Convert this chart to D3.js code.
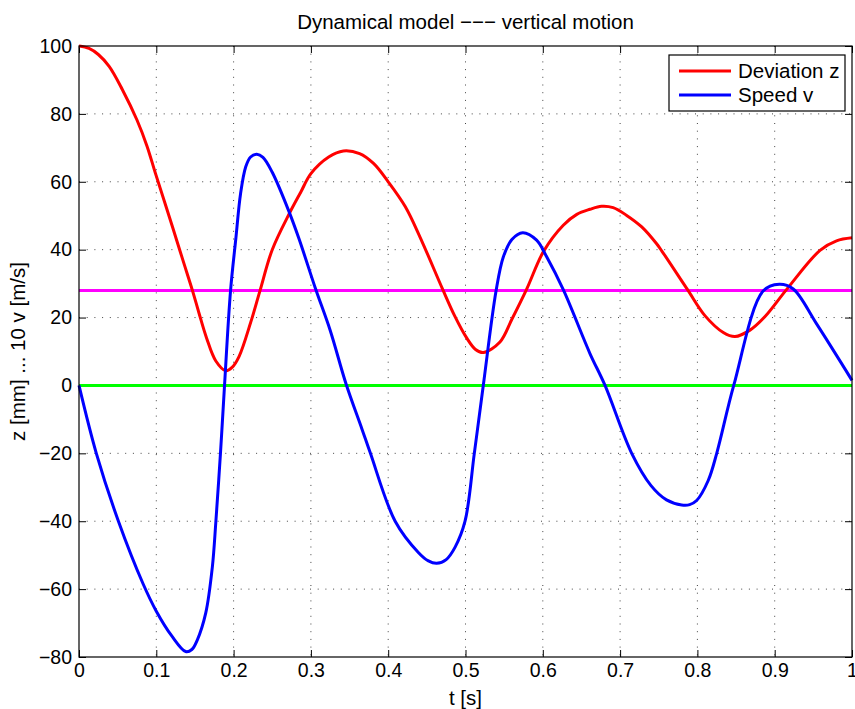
<!DOCTYPE html>
<html>
<head>
<meta charset="utf-8">
<script src="https://cdn.jsdelivr.net/npm/d3@7"></script>
<style>
    body { margin: 0; background: #fff; }
    text { font-family: "Liberation Sans", Arial, Helvetica, sans-serif; fill: #000; }
</style>
</head>
<body>
<div id="chart"></div>
<script>
// Deviation z [mm]
const tDev = [0, 0.013, 0.025, 0.039, 0.056, 0.075, 0.088, 0.099, 0.121, 0.134, 0.147, 0.155, 0.165, 0.177, 0.19, 0.198, 0.207,
    0.222, 0.234, 0.25, 0.272, 0.287, 0.3, 0.323, 0.342, 0.363, 0.381, 0.4, 0.422, 0.441, 0.4705, 0.486, 0.5015, 0.513, 0.523,
    0.5446, 0.56, 0.579, 0.601, 0.6265, 0.644, 0.661, 0.676, 0.691, 0.7085, 0.728, 0.747, 0.754, 0.787, 0.81, 0.8335, 0.8486,
    0.868, 0.8875, 0.9155, 0.9586, 0.98, 1.0];
const zDev = [100, 99.3, 97.5, 94, 87.2, 78.2, 70.5, 62.4, 46.7, 37.2, 27.8, 21.5, 14, 7.2, 4.3, 5.3, 8.5,
    18.5, 27.8, 40, 50.6, 57, 62.4, 67.3, 69.1, 68.3, 65.4, 60, 52.7, 43.8, 28.3, 20.5, 14, 10.6, 9.7,
    12.8, 19.5, 28.3, 39.5, 47.2, 50.4, 51.9, 52.8, 52.4, 50.1, 46.7, 41.8, 39.6, 28.3, 20.5, 15.6, 14.4,
    16.3, 20.3, 28.3, 39.8, 42.6, 43.5];

// Speed v scaled by 10 [m/s]
const tSpeed = [0, 0.0224, 0.051, 0.083, 0.1, 0.12, 0.138, 0.146, 0.153, 0.164, 0.1725, 0.177, 0.183, 0.188, 0.196, 0.203, 0.209,
    0.2157, 0.222, 0.23, 0.238, 0.25, 0.2717, 0.2846, 0.306, 0.325, 0.3454, 0.366, 0.377, 0.409, 0.439, 0.452, 0.4627, 0.475,
    0.4864, 0.4994, 0.5114, 0.523, 0.5395, 0.549, 0.56, 0.574, 0.592, 0.605, 0.6265, 0.661, 0.6805, 0.715, 0.74, 0.76, 0.7797,
    0.79, 0.799, 0.814, 0.825, 0.847, 0.885, 0.906, 0.924, 0.954, 1.0];
const vSpeed = [0, -20, -40, -58.5, -66.5, -73.8, -78.4, -77.8, -75, -67, -53.5, -40.3, -20, -1, 27.8, 43.5, 56.5,
    64.4, 67.3, 68.1, 67.2, 62.8, 51.2, 43.2, 28.5, 16.2, 0.5, -12.8, -20, -40, -49.2, -51.7, -52.4, -51.3,
    -47.7, -40, -20, 0, 27.8, 37.9, 43, 45, 42.8, 37.9, 28.2, 9.4, 0, -20, -29.5, -33.7, -35.2,
    -35.1, -33.9, -28, -20, 0, 27.8, 29.8, 28.4, 18.2, 1.5];

// horizontal reference lines
const refLevel = 28;
const zeroLevel = 0;

const xTicks = [0, 0.1, 0.2, 0.3, 0.4, 0.5, 0.6, 0.7, 0.8, 0.9, 1];
const yTicks = [-80, -60, -40, -20, 0, 20, 40, 60, 80, 100];
const legendItems = [
    { label: "Deviation z", color: "#ff0000" },
    { label: "Speed v", color: "#0000ff" },
];

let margin = { top: 46, right: 3, bottom: 52, left: 79 };
let width = 855 - margin.left - margin.right,
    height = 709 - margin.top - margin.bottom;

let svg = d3
    .select("#chart")
    .append("svg")
    .attr("width", 855)
    .attr("height", 709)
    .append("g")
    .attr("transform", "translate(" + margin.left + "," + margin.top + ")");

let x = d3.scaleLinear().domain([0, 1]).range([0, width]);
let y = d3.scaleLinear().domain([-80, 100]).range([height, 0]);

// Dotted grid
svg.append("g")
    .selectAll("line")
    .data(xTicks.slice(1, -1))
    .enter()
    .append("line")
    .attr("x1", (d) => x(d)).attr("x2", (d) => x(d))
    .attr("y1", 0).attr("y2", height)
    .attr("stroke", "#444").attr("stroke-width", 1).attr("stroke-dasharray", "1,6.7");

svg.append("g")
    .selectAll("line")
    .data(yTicks.slice(1, -1))
    .enter()
    .append("line")
    .attr("y1", (d) => y(d)).attr("y2", (d) => y(d))
    .attr("x1", 0).attr("x2", width)
    .attr("stroke", "#444").attr("stroke-width", 1).attr("stroke-dasharray", "1,6.7");

// Axes with inward ticks on all sides
const tickLen = 7;
svg.append("g")
    .attr("transform", "translate(0," + height + ")")
    .call(d3.axisBottom(x).tickValues(xTicks).tickSizeInner(-tickLen).tickSizeOuter(0).tickPadding(6)
        .tickFormat((d) => (d === 0 || d === 1 ? d : d3.format(".1f")(d))));
svg.append("g")
    .call(d3.axisTop(x).tickValues(xTicks).tickSizeInner(-tickLen).tickSizeOuter(0).tickFormat(""));
svg.append("g")
    .call(d3.axisLeft(y).tickValues(yTicks).tickSizeInner(-tickLen).tickSizeOuter(0).tickPadding(7)
        .tickFormat((d) => (d < 0 ? "\u2212" + Math.abs(d) : d)));
svg.append("g")
    .attr("transform", "translate(" + width + ",0)")
    .call(d3.axisRight(y).tickValues(yTicks).tickSizeInner(-tickLen).tickSizeOuter(0).tickFormat(""));

svg.selectAll(".domain").remove();
svg.selectAll(".tick line").attr("stroke", "#000");
svg.selectAll(".tick text").style("font-size", "19.5px").style("font-family", "Liberation Sans, Arial, sans-serif");

// Reference lines
svg.append("line")
    .attr("x1", x(0)).attr("x2", x(1))
    .attr("y1", y(refLevel)).attr("y2", y(refLevel))
    .attr("stroke", "#ff00ff").attr("stroke-width", 3);
svg.append("line")
    .attr("x1", x(0)).attr("x2", x(1))
    .attr("y1", y(zeroLevel)).attr("y2", y(zeroLevel))
    .attr("stroke", "#00ff00").attr("stroke-width", 3);

// Curves
const line = d3.line()
    .x((d) => x(d[0]))
    .y((d) => y(d[1]))
    .curve(d3.curveCatmullRom.alpha(0.5));

svg.append("path")
    .datum(tDev.map((t, i) => [t, zDev[i]]))
    .attr("d", line)
    .attr("fill", "none").attr("stroke", "#ff0000").attr("stroke-width", 3);

svg.append("path")
    .datum(tSpeed.map((t, i) => [t, vSpeed[i]]))
    .attr("d", line)
    .attr("fill", "none").attr("stroke", "#0000ff").attr("stroke-width", 3);

// Frame
svg.append("rect")
    .attr("width", width).attr("height", height)
    .attr("fill", "none").attr("stroke", "#000").attr("stroke-width", 1.2);

// Legend
const legend = svg.append("g").attr("transform", "translate(" + (669 - margin.left) + "," + (55 - margin.top) + ")");
legend.append("rect")
    .attr("width", 176).attr("height", 56)
    .attr("fill", "#fff").attr("stroke", "#000").attr("stroke-width", 1.2);
legendItems.forEach((item, i) => {
    const ly = 16 + i * 24;
    legend.append("line")
        .attr("x1", 10).attr("x2", 62).attr("y1", ly).attr("y2", ly)
        .attr("stroke", item.color).attr("stroke-width", 3);
    legend.append("text")
        .attr("x", 69).attr("y", ly).attr("dy", "0.35em")
        .style("font-size", "20.5px")
        .text(item.label);
});

// Title and labels
svg.append("text")
    .attr("x", width / 2).attr("y", -17)
    .attr("text-anchor", "middle")
    .style("font-size", "20.5px")
    .text("Dynamical model \u2212\u2212\u2212 vertical motion");

svg.append("text")
    .attr("x", width / 2).attr("y", height + 48)
    .attr("text-anchor", "middle")
    .style("font-size", "20.5px")
    .text("t [s]");

svg.append("text")
    .attr("transform", "translate(" + (-54) + "," + height / 2 + ") rotate(-90)")
    .attr("text-anchor", "middle")
    .style("font-size", "20.5px")
    .text("z [mm] ... 10 v [m/s]");
</script>
</body>
</html>
